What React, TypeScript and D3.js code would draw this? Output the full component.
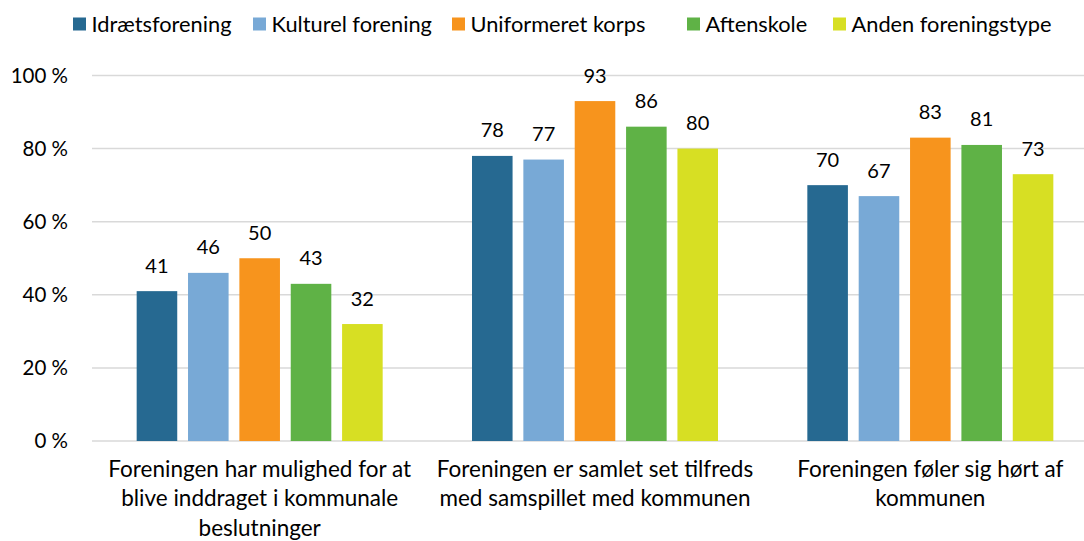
import React from "react";
import * as d3 from "d3";

const categories: string[][] = [
  ["Foreningen har mulighed for at", "blive inddraget i kommunale", "beslutninger"],
  ["Foreningen er samlet set tilfreds", "med samspillet med kommunen"],
  ["Foreningen føler sig hørt af", "kommunen"],
];
const seriesNames = ["Idrætsforening", "Kulturel forening", "Uniformeret korps", "Aftenskole", "Anden foreningstype"];
const seriesColors = ["#266991", "#78A9D6", "#F7941D", "#5FB246", "#D7DF23"];
const idraet = [41, 78, 70];
const kulturel = [46, 77, 67];
const uniformeret = [50, 93, 83];
const aftenskole = [43, 86, 81];
const anden = [32, 80, 73];
const seriesValues = [idraet, kulturel, uniformeret, aftenskole, anden];
const yTicks = [0, 20, 40, 60, 80, 100];

const W = 1084;
const H = 541;
const FONT = "Lato, 'Open Sans', sans-serif";
const legendX = [73, 253, 452, 687, 833];

export default function App() {
  const x0 = d3.scaleBand<number>().domain(d3.range(categories.length)).range([92, 1098]).padding(0);
  const groupW = 246;
  const x1 = d3.scaleBand<number>().domain(d3.range(seriesNames.length)).range([-groupW / 2, groupW / 2]).paddingInner(0.21).paddingOuter(0);
  const y = d3.scaleLinear().domain([0, 100]).range([441, 75.5]);

  return (
    <svg width={W} height={H} style={{ position: "absolute", left: 0, top: 0, background: "#fff" }} fontFamily={FONT}>
      <rect width={W} height={H} fill="#fff" />
      {yTicks.map((t) => (
        <g key={t}>
          <line x1={92} x2={W} y1={y(t)} y2={y(t)} stroke="#D9D9D9" strokeWidth={1.5} />
          <text x={68} y={y(t)} dy="0.35em" textAnchor="end" fontSize={20.5} fill="#000">
            {t} %
          </text>
        </g>
      ))}
      {seriesValues.map((vals, si) => (
        <g key={si}>
          {vals.map((v, ci) => {
            const cx = x0(ci)! + x0.bandwidth() / 2;
            const bx = cx + x1(si)!;
            return (
              <g key={ci}>
                <rect x={bx} y={y(v)} width={x1.bandwidth()} height={y(0) - y(v)} fill={seriesColors[si]} />
                <text x={bx + x1.bandwidth() / 2} y={y(v) - 18.5} textAnchor="middle" fontSize={20} fill="#000">
                  {v}
                </text>
              </g>
            );
          })}
        </g>
      ))}
      {categories.map((lines, ci) => {
        const cx = x0(ci)! + x0.bandwidth() / 2;
        return (
          <text key={ci} x={cx} y={476.5} textAnchor="middle" fontSize={22.5} fill="#000">
            {lines.map((l, li) => (
              <tspan key={li} x={cx} dy={li === 0 ? 0 : 29.5}>
                {l}
              </tspan>
            ))}
          </text>
        );
      })}
      {seriesNames.map((n, si) => (
        <g key={n} transform={`translate(${legendX[si]},0)`}>
          <rect x={0} y={17.5} width={13} height={13} fill={seriesColors[si]} />
          <text x={18.5} y={24} dy="0.35em" fontSize={21.8} fill="#000">
            {n}
          </text>
        </g>
      ))}
    </svg>
  );
}
